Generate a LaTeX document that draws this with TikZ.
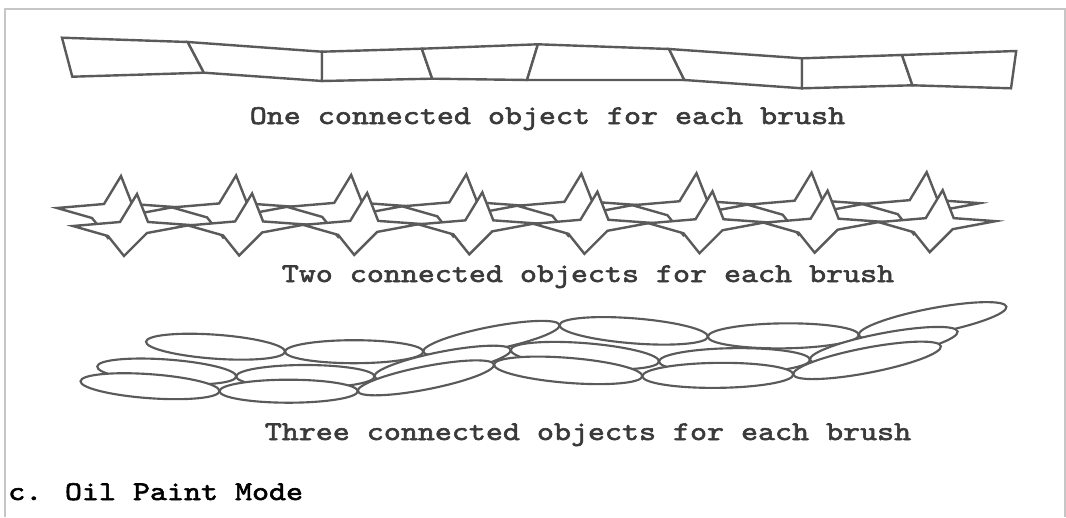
\documentclass[tikz,border=0pt]{standalone}
\usepackage{fontspec}
\newfontfamily\slabmono{lmmono10-regular}[Extension=.otf, FakeBold=2.2, FakeStretch=1.2]
\definecolor{strokegray}{HTML}{5A5A5A}
\definecolor{framegray}{HTML}{C6C6C6}
\definecolor{labelgray}{HTML}{3A3A3A}

\begin{document}
\begin{tikzpicture}[x=0.75pt,y=-0.75pt,
  brush/.style={draw=strokegray, fill=white, line width=1.8pt, line join=miter},
  rowlabel/.style={font=\fontsize{20.25}{24}\selectfont\slabmono,
    text=labelgray, inner sep=0pt, anchor=base},
  caption/.style={font=\fontsize{20.25}{24}\selectfont\slabmono,
    text=black, inner sep=0pt, anchor=base west},
  sparkle/.pic={
    \draw[brush] (7,-34) -- (18,-6) -- (60,-3) -- (17,5) -- (-6,28)
      -- (-22,8) -- (-57,-2) -- (-10,-6) -- cycle;
  }]
\useasboundingbox (0,0) rectangle (1066,517);
\fill[white] (0,0) rectangle (1066,517);

% panel frame
\draw[framegray, line width=1.5pt] (5,517) -- (5,9) -- (1066,9);
\draw[framegray, line width=0.8pt] (1065,9) -- (1065,517);

% --- one object per brush: a strip of quadrilaterals
\foreach \n/\x/\y in {0/62/37.7, 1/187.7/42, 2/322/51.7, 3/421.8/48.7, 4/537.9/44.3,
                      5/669/49, 6/802/58.3, 7/902/55, 8/1016.2/51}
  \coordinate (t\n) at (\x,\y);
\foreach \n/\x/\y in {0/72.3/76.7, 1/203.9/72.7, 2/322/81, 3/432.2/78.7, 4/527/80,
                      5/684.3/80, 6/802/88.3, 7/912.4/85.3, 8/1011/88.3}
  \coordinate (b\n) at (\x,\y);
\foreach \i [evaluate=\i as \j using int(\i+1)] in {0,...,7}
  \draw[brush] (t\i) -- (t\j) -- (b\j) -- (b\i) -- cycle;

\node[rowlabel] (lab1) at (547.5,124) {One connected object for each brush};

% --- two objects per brush: pairs of four-pointed stars
\foreach \k in {0,...,7} {
  \pic at ({114+115.1*\k},{210-0.55*\k}) {sparkle};
  \pic at ({130+115.1*\k},{228-0.55*\k}) {sparkle};
}

\node[rowlabel] (lab2) at (588,282) {Two connected objects for each brush};

% --- three objects per brush: stacked chains of ellipses
\foreach \ax/\ay/\bx/\by/\ry in {146/341.7/285/351.7/12, 285/351.7/423.3/351.7/11.5,
    423.3/351.7/559.5/325/11.5, 559.5/325/707.8/336.7/12.5,
    707.8/336.7/858.8/335/12.5, 858.8/335/1006.4/306.7/12.5} {
  \pgfmathsetmacro\cx{(\ax+\bx)/2}
  \pgfmathsetmacro\cy{(\ay+\by)/2}
  \pgfmathsetlengthmacro\rx{0.375pt*veclen(\bx-\ax,\by-\ay)}
  \pgfmathsetlengthmacro\rr{0.75pt*\ry}
  \pgfmathsetmacro\ang{-atan2(\by-\ay,\bx-\ax)}
  \foreach \ox/\oy in {0/0, -48.8/24.8, -65.5/39.5} {
    \pgfmathsetmacro\px{\cx+\ox}
    \pgfmathsetmacro\py{\cy+\oy}
    \draw[brush, line width=1.6pt, shift={(\px,\py)}, rotate=\ang]
      (0,0) ellipse [x radius=\rx, y radius=\rr];
  }
}

\node[rowlabel] (lab3) at (588,440) {Three connected objects for each brush};

\node[caption] (cap) at (8,500) {c. Oil Paint Mode};
\end{tikzpicture}
\end{document}
